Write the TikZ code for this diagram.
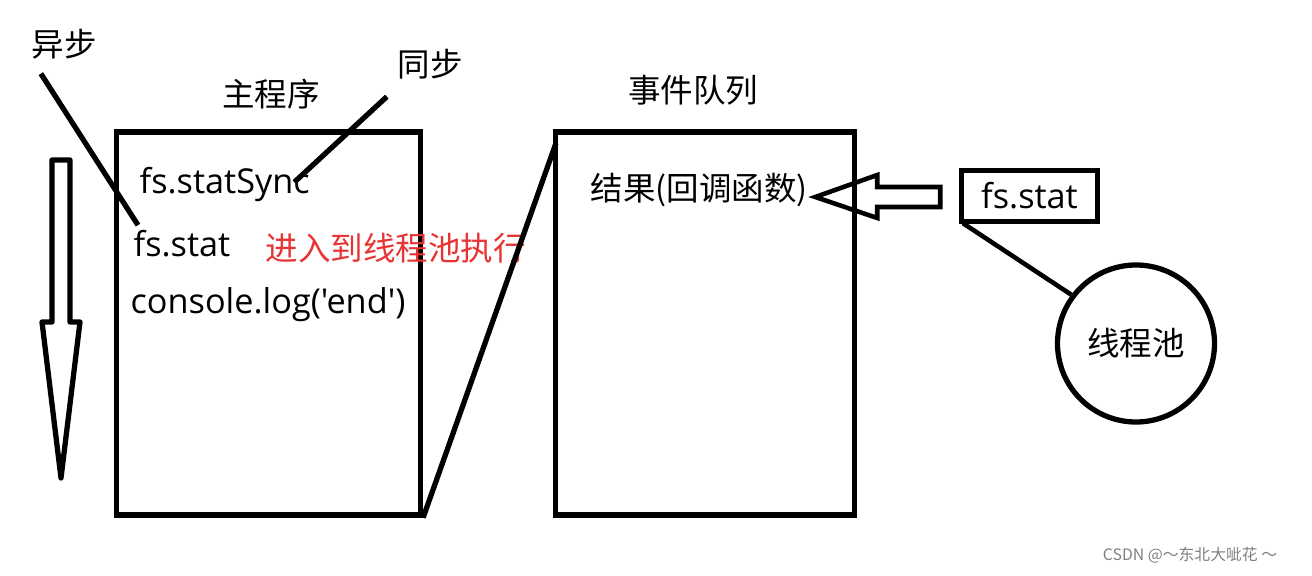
\documentclass[tikz,border=0pt]{standalone}
\usepackage{fontspec}
\setmainfont{Noto Sans CJK SC}
\newfontfamily\latinfont{Open Sans}
\usetikzlibrary{calc}

\begin{document}
\begin{tikzpicture}[x=0.02cm, y=-0.02cm, line width=3pt,
  every node/.style={font=\fontsize{18.5}{22}\selectfont, inner sep=0pt},
  box/.style={draw, line width=3pt},
  code/.style={anchor=base west, font=\latinfont\fontsize{19.5}{23}\selectfont}]

  % --- Parameter ---
  \def\u{0.02cm}          % ein Pixel der Vorlage
  \definecolor{redtext}{RGB}{232,52,52}

  \useasboundingbox (0,0) rectangle (1312,575);

  % --- Kästen ---
  \node[box, minimum width=304*\u, minimum height=383*\u] (main)  at (268.5,323.5) {};
  \node[box, minimum width=299*\u, minimum height=383*\u] (queue) at (705,323.5) {};

  % --- Überschriften ---
  \node (maintitle)  at (271,94) {主程序};
  \node (queuetitle) at (693,90) {事件队列};
  \node (sync)       at (430,64) {同步};
  \node (async)      at (64,44)  {异步};

  % --- Inhalt Hauptprogramm ---
  \node[code] (statsync) at (137,193) {fs.statSync};
  \node[code] (stat)     at (131,256) {fs.stat};
  \node[code] (log)      at (128,313) {console.log('end')};
  \node[anchor=west, text=redtext] (pool) at (263,248) {进入到线程池执行};

  % --- Inhalt Ereigniswarteschlange ---
  \node[anchor=west] (result) at (588,190) {结果(回调函数)};

  % --- Rechte Seite ---
  \node[box, minimum width=136*\u, minimum height=51*\u,
        font=\latinfont\fontsize{19.5}{23}\selectfont] (fsstat) at (1029.5,196) {fs.stat};
  \node[box, circle, minimum size=157*\u] (threadpool) at (1136,343.5) {线程池};

  % --- Verbindungen ---
  \draw ($(async.south west)+(12,12)$) -- ($(stat.north west)+(7,-2)$);
  \draw ($(sync.south west)+(-8,15)$)  -- ($(statsync.north east)+(-18,18)$);
  \draw (main.south east) -- ($(queue.north west)+(3,14)$);
  \draw[line width=2.6pt] ($(fsstat.south west)+(4,-1)$) -- (threadpool.143);

  % --- Hohlpfeile ---
  \coordinate (tip) at ($(result.east)+(5,7)$);
  \draw[line width=2.6pt, line join=miter]
    (tip) -- ++(62,-22) -- ++(0,12) -- ++(63,0) -- ++(0,20)
    -- ++(-63,0) -- ++(0,11) -- cycle;
  \draw[line width=3pt, line join=round]
    (52,160) -- (70,160) -- (70,322) -- (80,322) -- (61,478)
    -- (42,322) -- (52,322) -- cycle;

  % --- Wasserzeichen ---
  \node[font=\fontsize{9}{11}\selectfont, text=gray] (mark) at (1190,555) {CSDN @～东北大呲花 ～};

\end{tikzpicture}
\end{document}
